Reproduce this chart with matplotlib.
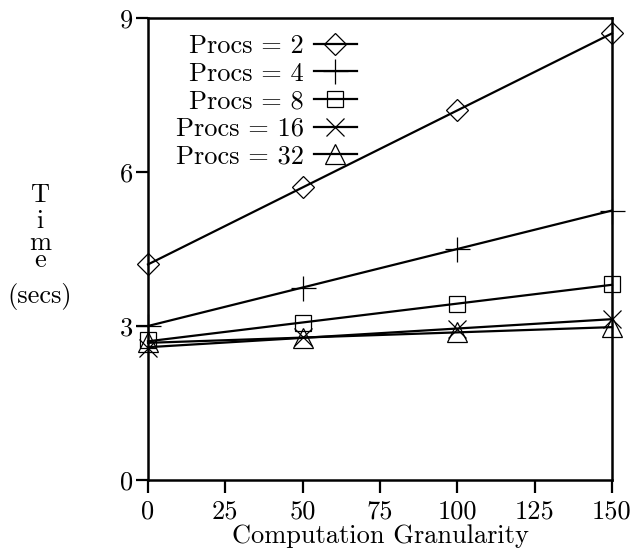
import numpy as np
import matplotlib
matplotlib.use('Agg')
import matplotlib.pyplot as plt

plt.rcParams['font.family'] = ['cmr10', 'DejaVu Serif']
plt.rcParams['font.size'] = 19
plt.rcParams['axes.unicode_minus'] = False

# time (secs) against computation granularity, one run per processor count
granularity = [0, 50, 100, 150]
procs2 = [4.2, 5.7, 7.2, 8.7]
procs4 = [3.0, 3.75, 4.5, 5.25]
procs8 = [2.72, 3.05, 3.42, 3.82]
procs16 = [2.58, 2.78, 2.95, 3.13]
procs32 = [2.68, 2.76, 2.88, 2.98]

series = [('Procs = 2', procs2, 'D', 11),
          ('Procs = 4', procs4, '+', 18),
          ('Procs = 8', procs8, 's', 11),
          ('Procs = 16', procs16, 'x', 13),
          ('Procs = 32', procs32, '^', 15)]

fig = plt.figure(figsize=(6.44, 5.5), dpi=100)
ax = fig.add_axes([148/644, 70/550, 464/644, 462/550])

xs = np.array(granularity, dtype=float)
for label, ys, mk, ms in series:
    # straight-line fit through the measured points
    slope, icpt = np.polyfit(xs, ys, 1)
    ax.plot(xs, slope * xs + icpt, color='black', lw=1.6, clip_on=False)
    ax.plot(xs, ys, linestyle='none', marker=mk, markersize=ms, mfc='none',
            mec='black', mew=0.9, clip_on=False)

# legend entries: line with marker on the right of the text
handles = [plt.Line2D([], [], color='black', lw=1.6, marker=mk, markersize=ms,
                      mfc='none', mec='black', mew=0.9)
           for label, ys, mk, ms in series]
ax.legend(handles, [s[0] for s in series], loc='upper left', frameon=False,
          markerfirst=False, handlelength=1.6, handletextpad=0.4,
          labelspacing=0.15, borderaxespad=0.3, bbox_to_anchor=(0.02, 1.005))

ax.set_xlim(0, 150)
ax.set_ylim(0, 9)
ax.set_xticks([0, 25, 50, 75, 100, 125, 150])
ax.set_yticks([0, 3, 6, 9])
ax.tick_params(direction='out', length=9, width=1.6, pad=2, top=False, right=False)
ax.tick_params(axis='x', pad=5)
for sp in ax.spines.values():
    sp.set_linewidth(1.8)

ax.set_xlabel('Computation Granularity', labelpad=1)

# vertical "Time" label, one letter per line, then the unit
for ch, base in zip('Time', [202, 228, 250, 267]):
    fig.text(40/644, 1 - base/550, ch, ha='center', va='baseline')
fig.text(40/644, 1 - 303/550, '(secs)', ha='center', va='baseline')

fig.savefig('out.png', dpi=100)
